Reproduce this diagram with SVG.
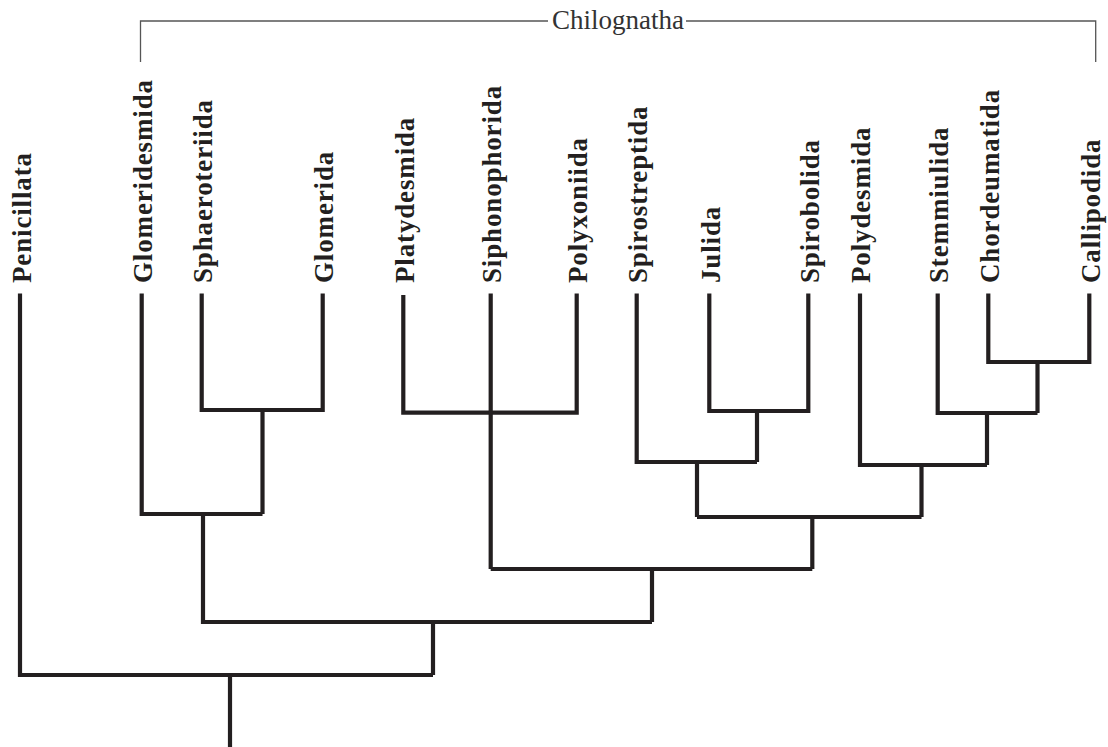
<svg xmlns="http://www.w3.org/2000/svg" width="1108" height="747" viewBox="0 0 1108 747">
<style>
.lbl{font-family:"Liberation Serif","Times New Roman",serif;font-weight:bold;font-size:27px;letter-spacing:0.85px;fill:#231f20}
.grp{font-family:"Liberation Serif","Times New Roman",serif;font-size:27px;fill:#333}
.br{fill:none;stroke:#231f20;stroke-width:4.2;stroke-linejoin:miter;stroke-linecap:butt}
.brk{fill:none;stroke:#555;stroke-width:1.3}
</style>
<rect width="1108" height="747" fill="#fff"/>
<g id="chilognatha">
<path class="brk" d="M140.5 62 V21 H548 M686 21 H1095.7 V62"/>
<text class="grp" x="552" y="29">Chilognatha</text>
</g>
<g id="labels">
<g id="n-penicillata"><text class="lbl" transform="translate(30.5,283) rotate(-90)">Penicillata</text></g>
<g id="n-glomeridesmida"><text class="lbl" transform="translate(152,283) rotate(-90)">Glomeridesmida</text></g>
<g id="n-sphaerotheriida"><text class="lbl" transform="translate(212,283) rotate(-90)">Sphaeroteriida</text></g>
<g id="n-glomerida"><text class="lbl" transform="translate(333,283) rotate(-90)">Glomerida</text></g>
<g id="n-platydesmida"><text class="lbl" transform="translate(413.5,283) rotate(-90)">Platydesmida</text></g>
<g id="n-siphonophorida"><text class="lbl" transform="translate(501,283) rotate(-90)">Siphonophorida</text></g>
<g id="n-polyxoniida"><text class="lbl" transform="translate(587,283) rotate(-90)">Polyxoniida</text></g>
<g id="n-spirostreptida"><text class="lbl" transform="translate(647,283) rotate(-90)">Spirostreptida</text></g>
<g id="n-julida"><text class="lbl" transform="translate(719.5,283) rotate(-90)">Julida</text></g>
<g id="n-spirobolida"><text class="lbl" transform="translate(818.5,283) rotate(-90)">Spirobolida</text></g>
<g id="n-polydesmida"><text class="lbl" transform="translate(870,283) rotate(-90)">Polydesmida</text></g>
<g id="n-stemmiulida"><text class="lbl" transform="translate(948,283) rotate(-90)">Stemmiulida</text></g>
<g id="n-chordeumatida"><text class="lbl" transform="translate(998.5,283) rotate(-90)">Chordeumatida</text></g>
<g id="n-callipodida"><text class="lbl" transform="translate(1099.5,283) rotate(-90)">Callipodida</text></g>
</g>
<g id="connectors">
<path class="br" d="M201.7 293.5 V410 H322.7 V293.5"/>
<path class="br" d="M262.5 410 V514"/>
<path class="br" d="M141.7 293.5 V514 H262.5"/>
<path class="br" d="M403.3 295 V412.7 H576.7 V293.5"/>
<path class="br" d="M490.7 293.5 V569"/>
<path class="br" d="M709.3 293.5 V411 H808.3 V293.5"/>
<path class="br" d="M757 411 V462"/>
<path class="br" d="M636.7 293.5 V462 H757"/>
<path class="br" d="M697 462 V517"/>
<path class="br" d="M988.3 293.5 V362 H1089.3 V293.5"/>
<path class="br" d="M1037.5 362 V413"/>
<path class="br" d="M937.7 293.5 V413 H1037.5"/>
<path class="br" d="M987 413 V465"/>
<path class="br" d="M860 293.5 V465 H987"/>
<path class="br" d="M921.5 465 V517"/>
<path class="br" d="M697 517 H921.5"/>
<path class="br" d="M812.3 517 V569"/>
<path class="br" d="M490.7 569 H812.3"/>
<path class="br" d="M652 569 V622"/>
<path class="br" d="M203 514 V622 H652"/>
<path class="br" d="M433 622 V675"/>
<path class="br" d="M20 293.5 V675 H433"/>
<path class="br" d="M230 675 V747"/>
</g>
</svg>
